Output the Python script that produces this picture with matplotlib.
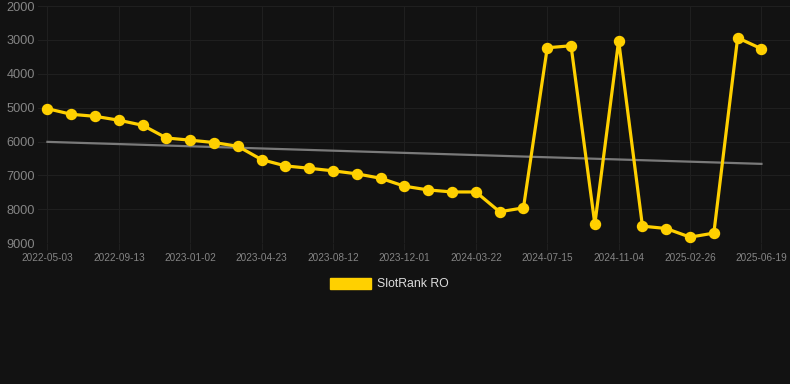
import numpy as np
import matplotlib
matplotlib.use("Agg")
import matplotlib.pyplot as plt
from matplotlib.patches import Patch

# rank values (lower is better -> y axis reversed), one per snapshot
rank = [5030, 5195, 5255, 5370, 5520, 5895, 5960, 6030, 6140, 6535,
        6720, 6790, 6865, 6955, 7085, 7320, 7430, 7490, 7490, 8075,
        7960, 3230, 3170, 8440, 3020, 8500, 8570, 8825, 8705, 2935,
        3260]
# labels shown on every third point
tick_labels = ["2022-05-03", "2022-09-13", "2023-01-02", "2023-04-23",
               "2023-08-12", "2023-12-01", "2024-03-22", "2024-07-15",
               "2024-11-04", "2025-02-26", "2025-06-19"]
trend = [6010, 6660]  # start / end of the grey trend line
series_name = "SlotRank RO"

bg = "#121212"
gold = "#FFD000"

fig = plt.figure(figsize=(7.9, 3.84), dpi=100, facecolor=bg)
ax = fig.add_axes([0.048, 0.367, 0.952, 0.617], facecolor=bg)

x = np.arange(len(rank))
ax.plot([x[0], x[-1]], trend, color="#7a7a7a", lw=1.6, zorder=2)
ax.plot(x, rank, color=gold, lw=2.3, marker="o", ms=7.2,
        solid_joinstyle="miter", zorder=3)

ax.set_ylim(9000, 2000)
ax.set_xlim(-0.4, len(rank) - 1 + 1.2)
ax.set_yticks(range(2000, 9001, 1000))
ax.set_xticks(x[::3])
ax.set_xticklabels(tick_labels)

ax.grid(True, color="#1f1f1f", lw=0.8)
for s in ax.spines.values():
    s.set_visible(False)
ax.tick_params(axis="y", length=0, pad=2, labelsize=9.2, labelcolor="#858585")
ax.tick_params(axis="x", length=5, color="#1f1f1f", pad=2, labelsize=7.2,
               labelcolor="#858585")
for t in ax.get_xticklabels() + ax.get_yticklabels():
    t.set_fontfamily("Liberation Sans")

leg = fig.legend(handles=[Patch(facecolor=gold, edgecolor=gold, label=series_name)],
                 loc="center", bbox_to_anchor=(0.493, 0.26), frameon=False,
                 handlelength=3.3, handleheight=1.0, handletextpad=0.5,
                 prop={"family": "Liberation Sans", "size": 8.8})
for t in leg.get_texts():
    t.set_color("#dddddd")

fig.savefig("out.png", dpi=100, facecolor=bg)
